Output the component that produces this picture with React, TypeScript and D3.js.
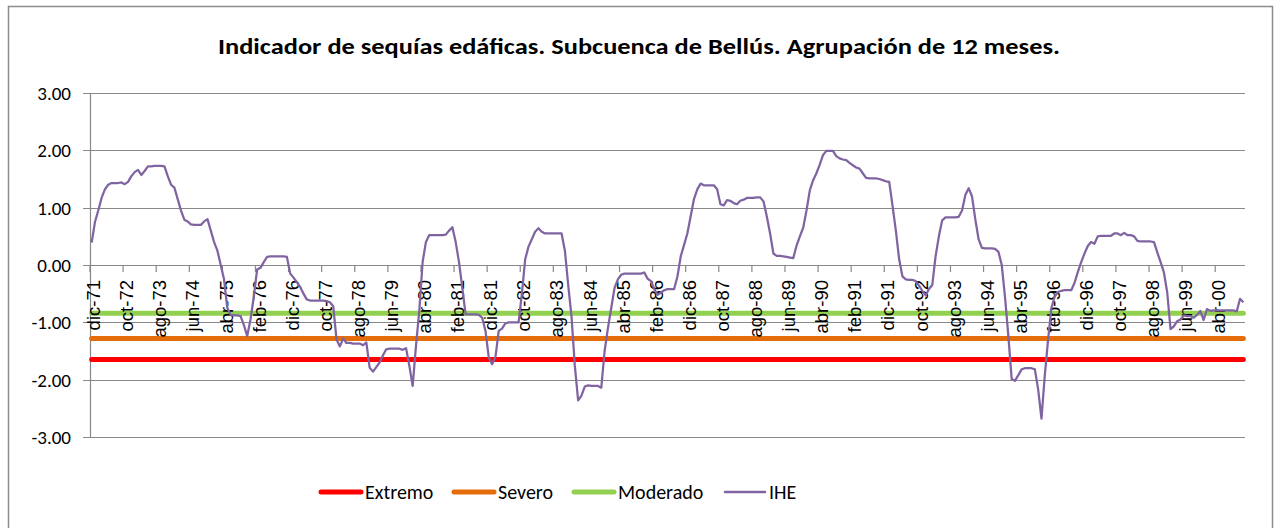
import React from "react";
import * as d3 from "d3";

const title = "Indicador de sequías edáficas. Subcuenca de Bellús. Agrupación de 12 meses.";

const tickLabels = [
  "dic-71", "oct-72", "ago-73", "jun-74", "abr-75", "feb-76", "dic-76", "oct-77", "ago-78", "jun-79",
  "abr-80", "feb-81", "dic-81", "oct-82", "ago-83", "jun-84", "abr-85", "feb-86", "dic-86", "oct-87",
  "ago-88", "jun-89", "abr-90", "feb-91", "dic-91", "oct-92", "ago-93", "jun-94", "abr-95", "feb-96",
  "dic-96", "oct-97", "ago-98", "jun-99", "abr-00",
];
const tickEvery = 10;

const yTicks = [-3, -2, -1, 0, 1, 2, 3];

const extremo = -1.65;
const severo = -1.28;
const moderado = -0.84;

// IHE monthly values, dic-71 .. dic-00
const ihe = [
  0.39, 0.75, 0.95, 1.17, 1.32, 1.40, 1.43, 1.43, 1.43, 1.44, 1.41, 1.45,
  1.55, 1.62, 1.66, 1.57, 1.64, 1.72, 1.72, 1.73, 1.73, 1.73, 1.72, 1.55,
  1.40, 1.35, 1.15, 0.95, 0.79, 0.76, 0.71, 0.70, 0.70, 0.70, 0.76, 0.80,
  0.60, 0.40, 0.25, 0.00, -0.25, -0.75, -0.87, -0.88, -0.88, -0.89, -1.05, -1.24,
  -0.95, -0.55, -0.08, -0.05, 0.05, 0.14, 0.15, 0.15, 0.15, 0.15, 0.15, 0.14,
  -0.15, -0.22, -0.30, -0.38, -0.50, -0.60, -0.62, -0.62, -0.62, -0.62, -0.62, -0.63,
  -0.65, -0.72, -1.30, -1.42, -1.28, -1.36, -1.36, -1.37, -1.37, -1.37, -1.40, -1.35,
  -1.79, -1.86, -1.78, -1.70, -1.58, -1.47, -1.46, -1.46, -1.46, -1.46, -1.48, -1.45,
  -1.76, -2.11, -1.41, -0.80, 0.05, 0.40, 0.52, 0.52, 0.52, 0.52, 0.52, 0.53,
  0.60, 0.66, 0.40, 0.05, -0.40, -0.86, -0.86, -0.86, -0.86, -0.87, -0.92, -1.15,
  -1.61, -1.73, -1.61, -1.15, -1.11, -1.02, -1.00, -1.00, -1.00, -1.00, -0.50, 0.10,
  0.32, 0.45, 0.58, 0.64, 0.58, 0.55, 0.55, 0.55, 0.55, 0.55, 0.55, 0.25,
  -0.35, -0.90, -1.76, -2.36, -2.28, -2.12, -2.10, -2.11, -2.11, -2.11, -2.14, -1.50,
  -1.10, -0.75, -0.40, -0.25, -0.17, -0.15, -0.15, -0.15, -0.15, -0.15, -0.15, -0.13,
  -0.24, -0.28, -0.42, -0.52, -0.48, -0.44, -0.42, -0.42, -0.42, -0.20, 0.15, 0.35,
  0.55, 0.85, 1.15, 1.32, 1.42, 1.39, 1.39, 1.39, 1.39, 1.32, 1.06, 1.04,
  1.13, 1.12, 1.08, 1.06, 1.12, 1.14, 1.17, 1.17, 1.17, 1.18, 1.18, 1.11,
  0.85, 0.55, 0.20, 0.16, 0.16, 0.15, 0.14, 0.13, 0.12, 0.34, 0.50, 0.65,
  0.95, 1.30, 1.48, 1.60, 1.75, 1.92, 1.99, 1.99, 1.99, 1.90, 1.86, 1.84,
  1.83, 1.78, 1.74, 1.70, 1.68, 1.60, 1.52, 1.51, 1.51, 1.51, 1.50, 1.48,
  1.46, 1.45, 1.03, 0.60, 0.10, -0.20, -0.25, -0.26, -0.26, -0.28, -0.36, -0.45,
  -0.53, -0.42, -0.35, 0.15, 0.50, 0.78, 0.83, 0.83, 0.83, 0.83, 0.84, 0.95,
  1.22, 1.34, 1.20, 0.80, 0.45, 0.30, 0.29, 0.29, 0.29, 0.28, 0.23, 0.00,
  -0.57, -1.24, -1.99, -2.02, -1.92, -1.82, -1.80, -1.80, -1.80, -1.82, -2.17, -2.68,
  -1.93, -1.30, -0.75, -0.55, -0.47, -0.45, -0.44, -0.44, -0.44, -0.31, -0.12, 0.05,
  0.20, 0.33, 0.40, 0.37, 0.50, 0.51, 0.51, 0.51, 0.51, 0.55, 0.55, 0.52,
  0.56, 0.52, 0.52, 0.50, 0.42, 0.41, 0.41, 0.41, 0.41, 0.40, 0.22, 0.05,
  -0.13, -0.48, -1.12, -1.07, -0.98, -0.95, -0.88, -0.89, -0.89, -0.92, -0.87, -0.80,
  -0.96, -0.77, -0.80, -0.79, -0.79, -0.79, -0.79, -0.79, -0.79, -0.79, -0.81, -0.59,
  -0.65,
];

const legendItems = [
  { name: "Extremo", color: "#FF0000", width: 5 },
  { name: "Severo", color: "#E46C0A", width: 5 },
  { name: "Moderado", color: "#92D050", width: 5 },
  { name: "IHE", color: "#8064A2", width: 2.5 },
];
const legendX = [320, 453, 573, 724];

const W = 1277;
const H = 528;
const plot = { left: 90, right: 1245, top: 93, bottom: 437 };
const FONT = "Carlito, Calibri, Lato, sans-serif";

export default function App() {
  const n = ihe.length;
  const x = d3.scaleLinear().domain([0, n]).range([plot.left, plot.right]);
  const y = d3.scaleLinear().domain([-3, 3]).range([plot.bottom, plot.top]);
  const cx = (i: number) => x(i + 0.5);

  const line = d3
    .line<number>()
    .x((_, i) => cx(i))
    .y((d) => y(d));

  const hLine = (v: number) =>
    d3.line<number>().x((d) => d).y(() => y(v))([cx(0), cx(n - 1)]) as string;

  const thresholds = [
    { v: extremo, c: legendItems[0].color },
    { v: severo, c: legendItems[1].color },
    { v: moderado, c: legendItems[2].color },
  ];

  const y0 = y(0);

  return (
    <svg
      width={W}
      height={H}
      style={{ position: "absolute", left: 0, top: 0, background: "#fff" }}
    >
      <rect x={8.5} y={6.5} width={1264} height={540} fill="#fff" stroke="#8c8c8c" strokeWidth={1.5} />

      <text
        x={639}
        y={54}
        textAnchor="middle"
        fontFamily={FONT}
        fontWeight="bold"
        fontSize={22}
        textLength={842}
        lengthAdjust="spacingAndGlyphs"
        fill="#000"
      >
        {title}
      </text>

      {/* gridlines */}
      {yTicks.map((t) => (
        <line
          key={"g" + t}
          x1={plot.left - 7}
          x2={plot.right}
          y1={Math.round(y(t)) + 0.5}
          y2={Math.round(y(t)) + 0.5}
          stroke="#888"
          strokeWidth={1.2}
        />
      ))}
      {yTicks.map((t) => (
        <text
          key={"yl" + t}
          x={71}
          y={y(t)}
          dy="0.36em"
          textAnchor="end"
          fontFamily={FONT}
          fontSize={19}
          fill="#000"
        >
          {t.toFixed(2)}
        </text>
      ))}
      <line x1={plot.left + 0.5} x2={plot.left + 0.5} y1={plot.top} y2={plot.bottom} stroke="#888" strokeWidth={1.2} />

      {/* thresholds */}
      {thresholds.map((t) => (
        <path key={t.v} d={hLine(t.v)} stroke={t.c} strokeWidth={5} strokeLinecap="round" fill="none" />
      ))}

      {/* x ticks and labels */}
      {tickLabels.map((lab, k) => {
        const i = k * tickEvery;
        return (
          <g key={lab}>
            <line x1={x(i)} x2={x(i)} y1={y0} y2={y0 + 7} stroke="#888" strokeWidth={1.2} />
            <text
              transform={`translate(${cx(i) + 2},${y0 + 15}) rotate(-90)`}
              dy="0.35em"
              textAnchor="end"
              fontFamily="'Liberation Sans', Arial, sans-serif"
              fontSize={18.5}
              fill="#000"
            >
              {lab}
            </text>
          </g>
        );
      })}

      <path d={line(ihe) as string} fill="none" stroke="#8064A2" strokeWidth={2.25} strokeLinejoin="round" />

      {/* legend */}
      {legendItems.map((it, k) => (
        <g key={it.name} transform={`translate(${legendX[k]},${492})`}>
          <line x1={1} x2={41} y1={0} y2={0} stroke={it.color} strokeWidth={it.width} strokeLinecap="round" />
          <text x={45} y={0} dy="0.36em" fontFamily={FONT} fontSize={20} fill="#000">
            {it.name}
          </text>
        </g>
      ))}
    </svg>
  );
}
